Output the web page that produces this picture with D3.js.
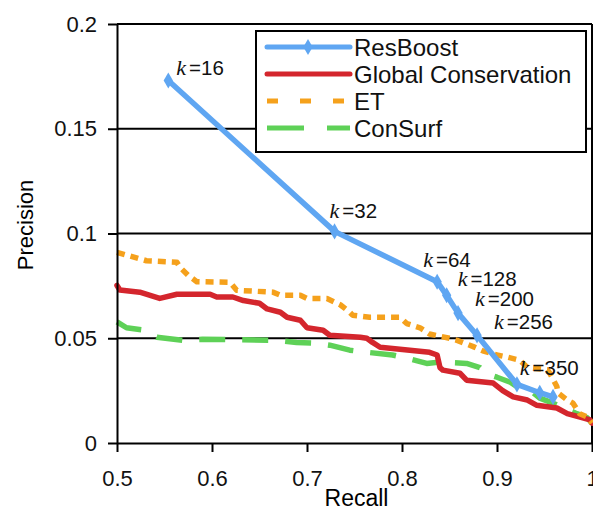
<html>
<head>
<script src="https://d3js.org/d3.v7.min.js"></script>
<style>
  body { margin: 0; background: #fff; }
  svg { font-family: "Liberation Sans", Arial, sans-serif; }
  .axis path, .axis line { stroke: #000; stroke-width: 2; }
  .axis text { font-size: 22px; fill: #111; }
  .grid { stroke: #000; stroke-width: 2; }
  .series { fill: none; stroke-width: 5.5; stroke-linejoin: round; }
  .klabel { font-size: 20.5px; fill: #111; }
  .legend text { font-size: 24px; fill: #111; }
</style>
</head>
<body>
<div id="chart"></div>
<script>
// ---- data ----
var resboost = [[0.554,0.173],[0.729,0.101],[0.837,0.077],[0.847,0.0705],[0.859,0.062],[0.879,0.0514],[0.921,0.028],[0.945,0.024],[0.959,0.022]];
var kLabels = ["16","32","64","128","200","256",null,"350",null];

var globalCons = [[0.5,0.0752],[0.503,0.073],[0.524,0.072],[0.545,0.069],[0.563,0.071],[0.598,0.071],[0.605,0.0697],[0.622,0.0697],[0.633,0.068],[0.65,0.0667],[0.658,0.064],[0.672,0.0624],[0.679,0.06],[0.693,0.0586],[0.7,0.055],[0.717,0.0538],[0.724,0.0514],[0.756,0.0505],[0.763,0.05],[0.769,0.048],[0.777,0.0457],[0.829,0.0433],[0.837,0.042],[0.84,0.036],[0.843,0.0348],[0.861,0.0333],[0.868,0.03],[0.896,0.0286],[0.906,0.025],[0.917,0.022],[0.932,0.0205],[0.942,0.018],[0.963,0.0167],[0.974,0.014],[0.998,0.011],[1.0,0.0095]];

var et = [[0.5,0.091],[0.531,0.087],[0.563,0.0863],[0.566,0.084],[0.575,0.08],[0.584,0.077],[0.619,0.0767],[0.626,0.0729],[0.664,0.072],[0.672,0.0705],[0.693,0.0705],[0.7,0.069],[0.721,0.069],[0.735,0.066],[0.745,0.0624],[0.748,0.061],[0.766,0.06],[0.798,0.06],[0.805,0.057],[0.819,0.055],[0.829,0.052],[0.85,0.05],[0.858,0.049],[0.875,0.046],[0.885,0.044],[0.9,0.042],[0.911,0.041],[0.924,0.0395],[0.932,0.036],[0.953,0.035],[0.956,0.033],[0.963,0.027],[0.964,0.024],[0.974,0.0205],[0.98,0.019],[0.987,0.014],[0.995,0.0124],[1.0,0.0095]];

var consurf = [[0.5,0.0578],[0.51,0.055],[0.527,0.054],[0.542,0.0505],[0.57,0.049],[0.59,0.0495],[0.668,0.049],[0.689,0.048],[0.71,0.0476],[0.724,0.0467],[0.745,0.0443],[0.763,0.0433],[0.79,0.042],[0.805,0.0405],[0.826,0.038],[0.84,0.0386],[0.868,0.038],[0.882,0.036],[0.889,0.033],[0.9,0.0314],[0.914,0.029],[0.924,0.026],[0.938,0.024],[0.945,0.0214],[0.959,0.019],[0.969,0.017],[0.984,0.014],[0.995,0.012],[1.0,0.0095]];

var seriesNames = ["ResBoost", "Global Conservation", "ET", "ConSurf"];
var xTicks = [0.5, 0.6, 0.7, 0.8, 0.9, 1];
var yTicks = [0, 0.05, 0.1, 0.15, 0.2];

// ---- layout ----
var W = 593, H = 512;
var x0 = 117, x1 = 592, y0 = 443, y1 = 24;
var colors = ["#5fa6f2", "#d4262d", "#f5a11c", "#5ed157"];
var dashes = [null, null, "8,6", "26,17"];
var legendDashes = [null, null, "11,22", "37,23"];
// label offsets from their point (dx, dy)
var kOffsets = [[8,-6],[-5,-13],[-14,-15],[11,-9],[17,-7],[17,-6],null,[-20,-18],null];

var xScale = d3.scaleLinear().domain([0.5, 1]).range([x0, x1]);
var yScale = d3.scaleLinear().domain([0, 0.2]).range([y0, y1]);

var svg = d3.select("#chart").append("svg")
  .attr("width", W).attr("height", H);

/* gridlines */
svg.append("g").selectAll("line")
  .data(yTicks.filter(d => d > 0)).enter()
  .append("line").attr("class", "grid")
  .attr("x1", x0).attr("x2", x1)
  .attr("y1", d => yScale(d)).attr("y2", d => yScale(d));

/* right border */
svg.append("line").attr("class", "grid")
  .attr("x1", x1).attr("x2", x1).attr("y1", y1).attr("y2", y0);

/* series */
var line = d3.line().x(d => xScale(d[0])).y(d => yScale(d[1]));
var all = [resboost, globalCons, et, consurf];
[3, 1, 2, 0].forEach(function(i) {
  svg.append("path").attr("class", "series")
    .attr("d", line(all[i]))
    .attr("stroke", colors[i])
    .attr("stroke-dasharray", dashes[i])
    .attr("stroke-linecap", i >= 2 ? "butt" : "round");
});

var diamond = d3.symbol().type(d3.symbolDiamond).size(75);
svg.append("g").selectAll("path")
  .data(resboost).enter()
  .append("path")
  .attr("d", diamond)
  .attr("fill", colors[0])
  .attr("transform", d => `translate(${xScale(d[0])},${yScale(d[1])})`);

/* k labels */
var kl = svg.append("g").attr("class", "klabel");
resboost.forEach(function(d, i) {
  if (!kLabels[i]) return;
  var t = kl.append("text")
    .attr("x", xScale(d[0]) + kOffsets[i][0])
    .attr("y", yScale(d[1]) + kOffsets[i][1]);
  t.append("tspan").attr("font-family", "Liberation Serif, Times New Roman, serif")
    .attr("font-style", "italic").attr("font-size", "22px").text("k");
  t.append("tspan").attr("dx", 3).text("=" + kLabels[i]);
});

/* axes */
svg.append("g").attr("class", "x axis")
  .attr("transform", `translate(0,${y0})`)
  .call(d3.axisBottom(xScale).tickValues(xTicks).tickFormat(d3.format("")).tickSizeInner(9).tickSizeOuter(0).tickPadding(18));

svg.append("g").attr("class", "y axis")
  .attr("transform", `translate(${x0},0)`)
  .call(d3.axisLeft(yScale).tickValues(yTicks).tickFormat(d3.format("")).tickSizeInner(9).tickSizeOuter(0).tickPadding(11));

svg.append("text")
  .attr("x", (x0 + x1) / 2 + 2).attr("y", 506)
  .attr("text-anchor", "middle").style("font-size", "23px")
  .text("Recall");

svg.append("text")
  .attr("transform", "translate(33,225) rotate(-90)")
  .attr("text-anchor", "middle").style("font-size", "22px")
  .text("Precision");

/* legend */
var lg = svg.append("g").attr("class", "legend");
lg.append("rect")
  .attr("x", 256).attr("y", 31).attr("width", 330).attr("height", 121)
  .attr("fill", "#fff").attr("stroke", "#000").attr("stroke-width", 2);
seriesNames.forEach(function(name, i) {
  var y = 47 + i * 27;
  lg.append("line")
    .attr("x1", 267).attr("x2", 350).attr("y1", y).attr("y2", y)
    .attr("stroke", colors[i]).attr("stroke-width", 5)
    .attr("stroke-dasharray", legendDashes[i])
    .attr("stroke-linecap", i >= 2 ? "butt" : "round");
  if (i === 0) {
    lg.append("path").attr("d", diamond).attr("fill", colors[0])
      .attr("transform", `translate(308,${y})`);
  }
  lg.append("text").attr("x", 354).attr("y", y + 9).text(name);
});
</script>
</body>
</html>
